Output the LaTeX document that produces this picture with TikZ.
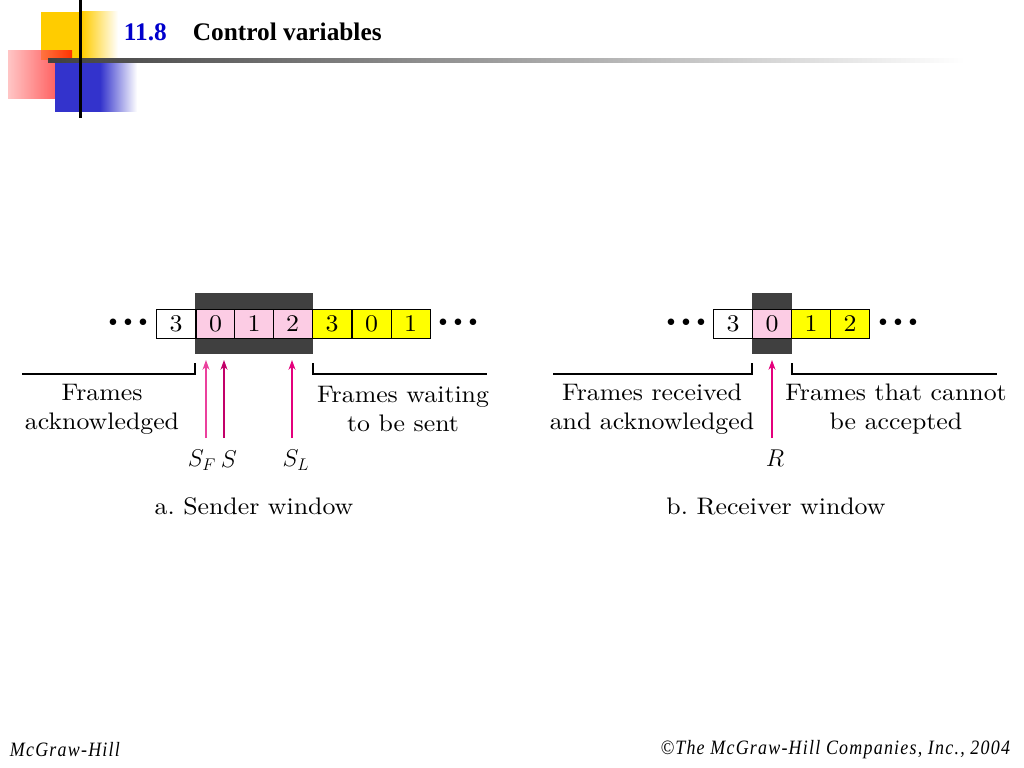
\documentclass[tikz,border=0pt]{standalone}
\usepackage{fontspec}
\newfontfamily\titlefont{Liberation Serif}
\newfontfamily\footfont{Liberation Serif}[FakeStretch=0.88, LetterSpace=6]
\newfontfamily\figfont{lmroman10-regular.otf}[FakeStretch=1.08]
\usetikzlibrary{arrows.meta}
\definecolor{winpink}{RGB}{252,204,228}
\definecolor{winyel}{RGB}{255,255,0}
\definecolor{windark}{RGB}{64,64,64}
\definecolor{ptrcol}{RGB}{228,0,124}
\definecolor{hdyel}{RGB}{255,204,0}
\definecolor{hdblue}{RGB}{51,51,204}
\definecolor{hdtitle}{RGB}{0,0,204}
\frenchspacing
\begin{document}
\begin{tikzpicture}[
    x=0.025cm, y=-0.025cm,
    cell/.style={draw, line width=0.7pt, minimum width=0.975cm, minimum height=0.725cm,
      inner sep=0pt, outer sep=0pt, font=\figfont\fontsize{17pt}{20pt}\selectfont},
    win/.style={fill=windark, minimum height=1.525cm, inner sep=0pt, outer sep=0pt},
    dots/.style={font=\fontsize{13pt}{16pt}\selectfont},
    lbl/.style={align=center, font=\figfont\fontsize{17pt}{20.6pt}\selectfont},
    ptr/.style={-{Stealth[length=7pt, width=5pt]}, line width=1pt, draw=ptrcol},
    brk/.style={line width=0.8pt},
    ptrlbl/.style={font=\figfont\fontsize{17pt}{20pt}\selectfont},
    foot/.style={font=\footfont\itshape\fontsize{14.5pt}{16pt}\selectfont}
  ]
    \useasboundingbox (0,0) rectangle (1024,768);

    % --- header ---
    \fill[hdyel] (41,12) rectangle (82,60);
    \shade[left color=hdyel, right color=white] (82,12) rectangle (118,60);
    \shade[left color=red!30, right color=red, opacity=0.75] (8,51) rectangle (72,99);
    \fill[hdblue] (55,60) rectangle (100,112);
    \shade[left color=hdblue, right color=white] (100,60) rectangle (137,112);
    \shade[left color=black!75, middle color=black!55, right color=white] (48,59) rectangle (965,63);
    \fill[black] (78.5,0) rectangle (81.5,118);
    \node[anchor=west, font=\titlefont\bfseries\fontsize{18pt}{20pt}\selectfont, text=hdtitle] (secno) at (119,32) {11.8};
    \node[anchor=west, font=\titlefont\bfseries\fontsize{18pt}{20pt}\selectfont] (sectitle) at (188,32) {Control variables};

    % --- sender window ---
    \node[win, minimum width=2.95cm] (swin) at (254,323.5) {};
    \node[cell]                (s1) at (176,323.5)   {3};
    \node[cell, fill=winpink]  (s2) at (215.5,323.5) {0};
    \node[cell, fill=winpink]  (s3) at (254,323.5)   {1};
    \node[cell, fill=winpink]  (s4) at (292.5,323.5) {2};
    \node[cell, fill=winyel]   (s5) at (332,323.5)   {3};
    \node[cell, fill=winyel]   (s6) at (371.5,323.5) {0};
    \node[cell, fill=winyel]   (s7) at (410.5,323.5) {1};
    \node[dots] (sdl) at (128,323) {$\bullet\kern2pt\bullet\kern2pt\bullet$};
    \node[dots] (sdr) at (458,323) {$\bullet\kern2pt\bullet\kern2pt\bullet$};

    \draw[brk] (22,374) -- (195,374) -- (195,363);
    \draw[brk] (313,363) -- (313,374) -- (487,374);
    \node[lbl] (sack)  at (102,409) {Frames\\acknowledged};
    \node[lbl] (swait) at (403,409) {Frames waiting\\to be sent};

    \coordinate (sfb) at (206,438); \coordinate (sft) at (206,360);
    \coordinate (sb)  at (224,438); \coordinate (st)  at (224,360);
    \coordinate (slb) at (292,438); \coordinate (slt) at (292,360);
    \draw[ptr, draw=ptrcol!75] (sfb) -- (sft);
    \draw[ptr, draw=ptrcol!85!black] (sb) -- (st);
    \draw[ptr] (slb) -- (slt);
    \node[ptrlbl] (sflbl) at (202,460) {$S_F$};
    \node[ptrlbl] (slbl)  at (229,459) {$S$};
    \node[ptrlbl] (sllbl) at (296,460) {$S_L$};
    \node[ptrlbl] (scap)  at (254,506) {a. Sender window};

    % --- receiver window ---
    \node[win, minimum width=1.0cm] (rwin) at (772,323.5) {};
    \node[cell]                (r1) at (733,323.5) {3};
    \node[cell, fill=winpink]  (r2) at (772,323.5) {0};
    \node[cell, fill=winyel]   (r3) at (811,323.5) {1};
    \node[cell, fill=winyel]   (r4) at (850,323.5) {2};
    \node[dots] (rdl) at (686,323) {$\bullet\kern2pt\bullet\kern2pt\bullet$};
    \node[dots] (rdr) at (898,323) {$\bullet\kern2pt\bullet\kern2pt\bullet$};

    \draw[brk] (553,374) -- (752,374) -- (752,363);
    \draw[brk] (792,363) -- (792,374) -- (997,374);
    \node[lbl] (rack) at (652,409) {Frames received\\and acknowledged};
    \node[lbl] (rrej) at (896,409) {Frames that cannot\\be accepted};

    \coordinate (rb) at (772,438); \coordinate (rt) at (772,360);
    \draw[ptr, line width=0.8pt] (rb) -- (rt);
    \node[ptrlbl] (rlbl) at (775,458) {$R$};
    \node[ptrlbl] (rcap) at (776,506) {b. Receiver window};

    % --- footer ---
    \node[foot, anchor=west] (fleft)  at (5,750)    {McGraw-Hill};
    \node[foot, anchor=east] (fright) at (1015,750) {\textcopyright The McGraw-Hill Companies, Inc., 2004};
\end{tikzpicture}
\end{document}
